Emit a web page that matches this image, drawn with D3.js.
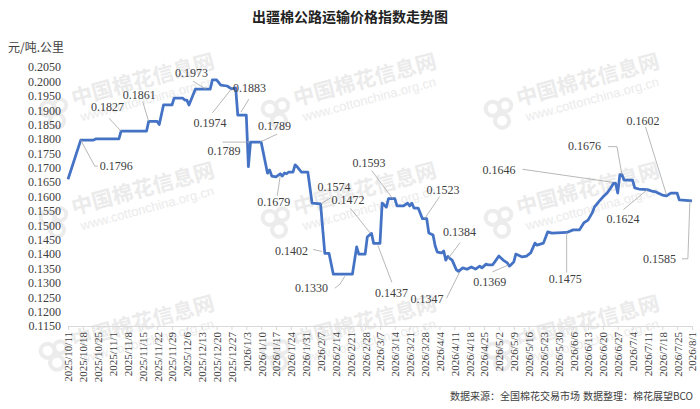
<!doctype html>
<html>
<head>
<meta charset="utf-8">
<script src="https://d3js.org/d3.v7.min.js"></script>
<style>
  body { margin: 0; background: #fff; }
</style>
</head>
<body>
<div id="chart"></div>
<script>

// data
var dates = [
  "2025-10-11","2025-10-17","2025-10-23","2025-10-24","2025-11-04","2025-11-05","2025-11-17","2025-11-18","2025-11-22","2025-11-23",
  "2025-11-25","2025-11-29","2025-11-30","2025-12-04","2025-12-05","2025-12-06","2025-12-07","2025-12-10","2025-12-17","2025-12-18",
  "2025-12-20","2025-12-22","2025-12-25","2025-12-27","2025-12-29","2025-12-30","2026-01-02","2026-01-03","2026-01-04","2026-01-05",
  "2026-01-10","2026-01-13","2026-01-14","2026-01-15","2026-01-17","2026-01-19","2026-01-20","2026-01-21","2026-01-22","2026-01-23",
  "2026-01-25","2026-01-26","2026-01-27","2026-01-29","2026-02-01","2026-02-03","2026-02-07","2026-02-09","2026-02-11","2026-02-13",
  "2026-02-22","2026-02-24","2026-02-25","2026-02-28","2026-03-01","2026-03-03","2026-03-04","2026-03-07","2026-03-08","2026-03-10",
  "2026-03-11","2026-03-14","2026-03-15","2026-03-18","2026-03-20","2026-03-21","2026-03-22","2026-03-23","2026-03-25","2026-03-27",
  "2026-03-29","2026-03-30","2026-04-01","2026-04-02","2026-04-03","2026-04-05","2026-04-06","2026-04-07","2026-04-08","2026-04-09",
  "2026-04-10","2026-04-12","2026-04-13","2026-04-15","2026-04-17","2026-04-19","2026-04-21","2026-04-23","2026-04-24","2026-04-26",
  "2026-04-27","2026-04-29","2026-04-30","2026-05-02","2026-05-04","2026-05-06","2026-05-07","2026-05-09","2026-05-10","2026-05-13",
  "2026-05-15","2026-05-17","2026-05-19","2026-05-20","2026-05-23","2026-05-25","2026-05-27","2026-06-03","2026-06-06","2026-06-09",
  "2026-06-11","2026-06-13","2026-06-15","2026-06-16","2026-06-18","2026-06-20","2026-06-22","2026-06-24","2026-06-25","2026-06-26",
  "2026-06-27","2026-06-28","2026-06-29","2026-06-30","2026-07-04","2026-07-05","2026-07-07","2026-07-11","2026-07-13","2026-07-15",
  "2026-07-18","2026-07-20","2026-07-22","2026-07-25","2026-07-26","2026-08-01"
];
var values = [
  0.1660,0.1796,0.1796,0.1800,0.1800,0.1827,0.1827,0.1861,0.1861,0.1850,
  0.1918,0.1918,0.1942,0.1942,0.1935,0.1935,0.1918,0.1973,0.1973,0.2005,
  0.2005,0.1987,0.1984,0.1974,0.1977,0.1883,0.1883,0.1883,0.1704,0.1789,
  0.1789,0.1681,0.1692,0.1671,0.1668,0.1679,0.1671,0.1682,0.1679,0.1685,
  0.1685,0.1710,0.1703,0.1685,0.1685,0.1577,0.1574,0.1402,0.1402,0.1330,
  0.1330,0.1425,0.1400,0.1400,0.1459,0.1472,0.1437,0.1437,0.1577,0.1563,
  0.1593,0.1593,0.1567,0.1567,0.1577,0.1567,0.1577,0.1560,0.1560,0.1523,
  0.1523,0.1473,0.1466,0.1428,0.1407,0.1404,0.1411,0.1379,0.1392,0.1384,
  0.1379,0.1345,0.1340,0.1352,0.1347,0.1355,0.1348,0.1358,0.1352,0.1365,
  0.1362,0.1362,0.1372,0.1393,0.1379,0.1369,0.1358,0.1372,0.1400,0.1390,
  0.1393,0.1404,0.1438,0.1431,0.1438,0.1477,0.1473,0.1475,0.1484,0.1484,
  0.1508,0.1518,0.1543,0.1563,0.1581,0.1598,0.1612,0.1633,0.1646,0.1646,
  0.1612,0.1676,0.1676,0.1657,0.1657,0.1630,0.1626,0.1624,0.1619,0.1616,
  0.1605,0.1602,0.1612,0.1612,0.1588,0.1585
];

// labelled points
var noteDates = [
  "2025-10-17","2025-11-05","2025-11-18","2025-12-15","2025-12-27","2025-12-31","2026-01-05","2026-01-09",
  "2026-01-19","2026-02-06","2026-03-03","2026-02-10","2026-02-18","2026-03-06","2026-03-12","2026-03-28",
  "2026-04-09","2026-04-13","2026-05-06","2026-06-02","2026-06-25","2026-06-29","2026-07-11","2026-07-20","2026-07-31"
];
var noteValues = [
  0.1796,0.1827,0.1861,0.1973,0.1974,0.1883,0.1789,0.1789,
  0.1679,0.1574,0.1472,0.1402,0.1330,0.1437,0.1593,0.1523,
  0.1384,0.1347,0.1369,0.1475,0.1646,0.1676,0.1624,0.1602,0.1585
];

var firstDay = "2025-10-11", lastDay = "2026-08-01";
var yMin = 0.1150, yMax = 0.2050, yStep = 0.0050;

var title = "出疆棉公路运输价格指数走势图";
var unit = "元/吨.公里";
var source1 = "数据来源：全国棉花交易市场";
var source2 = "数据整理：棉花展望BCO";

// label offsets and leader lines (pixels, relative to the point)
var noteLayout = [
  {dx: 19, dy: 26, lead: [[0,0],[14,26],[17,26]]},
  {dx: -30, dy: -24, lead: [[0,0],[-12,-13]]},
  {dx: -26, dy: -27, lead: [[0,0],[-6,-20]]},
  {dx: -31, dy: -16, lead: [[0,0],[-13,-8]]},
  {dx: -38, dy: 34, lead: [[0,0],[-19,24]]},
  {dx: -7, dy: -27, lead: [[1,-3],[9,-16]]},
  {dx: -43, dy: 9, lead: [[-28,0],[-2,0]]},
  {dx: -1, dy: -16, lead: [[1,0],[18,-8]]},
  {dx: -23, dy: 28, lead: [[0,2],[-3,22]]},
  {dx: -1, dy: -17, lead: [[2,0],[12,-6]]},
  {dx: -40, dy: -34, lead: [[-1,0],[-21,-25]]},
  {dx: -52, dy: -3, lead: [[-5,-2],[-14,-4]]},
  {dx: -49, dy: 14, lead: [[1,2],[-4,10],[-9,14]]},
  {dx: -3, dy: 49, lead: [[0,2],[14,39]]},
  {dx: -38, dy: -36, lead: [[2,0],[-19,-28]]},
  {dx: 2, dy: -29, lead: [[0,0],[15,-22]]},
  {dx: -7, dy: -27, lead: [[-2,0],[10,-16]]},
  {dx: -48, dy: 29, lead: [[1,3],[-10,25],[-12,29]]},
  {dx: -34, dy: 19, lead: [[1,2],[-15,9]]},
  {dx: -16, dy: 46, lead: [[2,0],[2,40]]},
  {dx: -131, dy: -13, lead: [[-1,-1],[-91,-14]]},
  {dx: -54, dy: -29, lead: [[0,0],[-5,-28],[-14,-28]]},
  {dx: -41, dy: 29, lead: [[0,0],[-24,20]]},
  {dx: -40, dy: -75, lead: [[0,-1],[-21,-69]]},
  {dx: -47, dy: 58, lead: [[0,0],[-2,58],[-8,58]]}
];

var W = 700, H = 409;
var serif = "'Liberation Serif', 'DejaVu Serif', serif";
var cjk = "'Noto Sans CJK SC', sans-serif";

var parse = d3.timeParse("%Y-%m-%d");
var fmtDate = d3.timeFormat("%Y/%-m/%-d");
var fmtVal = d3.format(".4f");

var svg = d3.select("#chart").append("svg")
    .attr("width", W)
    .attr("height", H)
    .style("display", "block");

var x = d3.scaleTime()
    .domain([parse(firstDay), parse(lastDay)])
    .range([68, 692]);
var y = d3.scaleLinear()
    .domain([yMin, yMax])
    .range([326, 67]);

// watermark
var wm = svg.append("g").attr("class", "watermark");
[55, 277, 500].forEach(function(cx) {
  [113, 222, 355].forEach(function(cy) {
    var g = wm.append("g").attr("transform", "translate(" + cx + "," + cy + ") rotate(-15)");
    g.append("circle").attr("cx", -6).attr("cy", -6).attr("r", 7)
      .attr("fill", "none").attr("stroke", "#ececec").attr("stroke-width", 4);
    g.append("circle").attr("cx", 7).attr("cy", -6).attr("r", 6)
      .attr("fill", "none").attr("stroke", "#ececec").attr("stroke-width", 4);
    g.append("circle").attr("cx", 0).attr("cy", 8).attr("r", 7)
      .attr("fill", "none").attr("stroke", "#ececec").attr("stroke-width", 4);
    g.append("text").attr("x", 20).attr("y", -2)
      .attr("font-family", cjk).attr("font-weight", "bold").attr("font-size", 21)
      .attr("fill", "#ebebeb").text("中国棉花信息网");
    g.append("text").attr("x", 24).attr("y", 15)
      .attr("font-family", "'Liberation Sans', Arial, sans-serif").attr("font-size", 13)
      .attr("fill", "#ebebeb").text("www.cottonchina.org.cn");
  });
});

// title
svg.append("text")
    .attr("x", 350).attr("y", 22)
    .attr("text-anchor", "middle")
    .attr("font-family", cjk).attr("font-weight", "bold").attr("font-size", 14)
    .attr("fill", "#222").text(title);

svg.append("text")
    .attr("x", 8).attr("y", 52)
    .attr("font-family", cjk).attr("font-size", 12)
    .attr("fill", "#404040").text(unit);

// y axis (labels only)
var yTicks = d3.range(0, Math.round((yMax - yMin) / yStep) + 1).map(function(i) { return yMin + i * yStep; });
var yAxis = svg.append("g")
    .attr("transform", "translate(61,0)")
    .call(d3.axisLeft(y).tickValues(yTicks).tickFormat(fmtVal).tickSize(0).tickPadding(0));
yAxis.select(".domain").remove();
yAxis.selectAll("text")
    .attr("font-family", serif).attr("font-size", 12).attr("fill", "#404040");

// x axis
var xTicks = d3.timeDay.range(parse(firstDay), d3.timeDay.offset(parse(lastDay), 1), 7);
var xAxis = svg.append("g")
    .attr("transform", "translate(0,326)")
    .call(d3.axisBottom(x).tickValues(xTicks).tickFormat(fmtDate).tickSize(4).tickSizeOuter(0));
xAxis.select(".domain").attr("stroke", "#d9d9d9");
xAxis.selectAll(".tick line").attr("stroke", "#d9d9d9");
xAxis.selectAll("text")
    .attr("font-family", serif).attr("font-size", 11).attr("fill", "#404040")
    .attr("text-anchor", "end")
    .attr("transform", "rotate(-90)")
    .attr("x", -6).attr("y", 0).attr("dy", "0.35em");

// series line
var series = dates.map(function(d, i) { return [parse(d), values[i]]; });
svg.append("path")
    .datum(series)
    .attr("fill", "none")
    .attr("stroke", "#4472c4")
    .attr("stroke-width", 2.75)
    .attr("stroke-linejoin", "round")
    .attr("d", d3.line()
      .x(function(d) { return x(d[0]); })
      .y(function(d) { return y(d[1]); }));

// data labels with leader lines
var notes = svg.append("g").attr("class", "notes");
noteDates.forEach(function(d, i) {
  var px = x(parse(d)), py = y(noteValues[i]);
  var lay = noteLayout[i];
  notes.append("path")
    .attr("d", d3.line()(lay.lead.map(function(p) { return [px + p[0], py + p[1]]; })))
    .attr("fill", "none").attr("stroke", "#a6a6a6").attr("stroke-width", 0.8);
  notes.append("text")
    .attr("x", px + lay.dx).attr("y", py + lay.dy).attr("dy", "0.35em")
    .attr("font-family", serif).attr("font-size", 12).attr("fill", "#404040")
    .text(fmtVal(noteValues[i]));
});

// footer
svg.append("text")
    .attr("x", 580).attr("y", 400).attr("text-anchor", "end")
    .attr("font-family", cjk).attr("font-size", 10).attr("fill", "#404040")
    .text(source1);
svg.append("text")
    .attr("x", 693).attr("y", 400).attr("text-anchor", "end")
    .attr("font-family", cjk).attr("font-size", 10).attr("fill", "#404040")
    .text(source2);

</script>
</body>
</html>
